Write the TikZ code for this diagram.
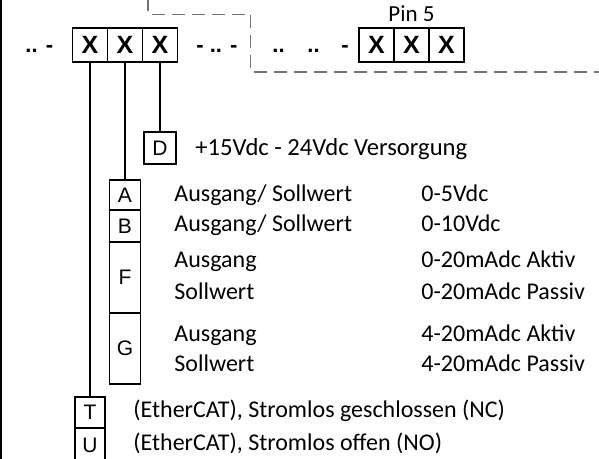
\documentclass[tikz,border=0pt]{standalone}
\usepackage{fontspec}
\setmainfont{Carlito}
\newfontfamily\arialf{Liberation Sans}
\begin{document}
\begin{tikzpicture}[x=0.5pt,y=-0.5pt,
 cell/.style={draw,line width=0.8pt,inner sep=0pt,minimum width=17.5pt,minimum height=17pt,font=\arialf\bfseries\fontsize{12.5}{14}\selectfont},
 sbox/.style={draw,line width=0.75pt,inner sep=0pt,minimum width=15.5pt,font=\arialf\fontsize{10.5}{12}\selectfont},
 wire/.style={line width=0.65pt},
 txt/.style={anchor=base west,inner sep=0pt,font=\fontsize{12}{14}\selectfont},
 dots/.style={anchor=base west,inner sep=0pt,font=\arialf\bfseries\fontsize{11}{13}\selectfont},
 gdash/.style={draw=black!55,line width=0.7pt,dash pattern=on 6.5pt off 3.5pt}]
\useasboundingbox (0,0) rectangle (599,459);
% left border
\draw[line width=0.9pt] (1,0) -- (1,460);
% dashed frame
\draw[gdash] (148,-2) -- (148,14.5) -- (250.5,14.5) -- (250.5,72) -- (602,72);
% first code block
\node[dots] (d1) at (25,53) {.. -};
\node[cell] (x1a) at (90,45) {X};
\node[cell] (x1b) at (125,45) {X};
\node[cell] (x1c) at (160,45) {X};
\node[dots] (d2) at (196,53) {- .. -};
\node[dots] (d3) at (272,53) {..};
\node[dots] (d4) at (307,53) {..};
\node[dots] (d5) at (341,53) {-};
% second code block
\node[cell] (x2a) at (376.5,45) {X};
\node[cell] (x2b) at (411.5,45) {X};
\node[cell] (x2c) at (446.5,45) {X};
\node[anchor=base west,inner sep=0pt,font=\fontsize{11.5}{13}\selectfont] (pin) at (388,21.5) {Pin 5};
% D
\node[sbox,minimum width=16pt,minimum height=16pt] (D) at (160,148) {D};
\node[txt,font=\fontsize{12.3}{14}\selectfont] (tD) at (195,156) {+15Vdc - 24Vdc Versorgung};
% A B F G
\node[sbox,minimum height=15pt] (A) at (125,195) {A};
\node[sbox,minimum height=16pt] (B) at (125,226) {B};
\node[sbox,minimum height=35.5pt] (F) at (125,277.5) {F};
\node[sbox,minimum height=35.5pt] (G) at (125,348.5) {G};
\node[txt] (tA) at (174,201.7) {Ausgang/ Sollwert};
\node[txt] (tB) at (174,231.7) {Ausgang/ Sollwert};
\node[txt] (tF1) at (174,268) {Ausgang};
\node[txt] (tF2) at (174,300) {Sollwert};
\node[txt] (tG1) at (174,341.7) {Ausgang};
\node[txt] (tG2) at (174,371.7) {Sollwert};
\node[txt] (vA) at (421,201.7) {0-5Vdc};
\node[txt] (vB) at (421,231.7) {0-10Vdc};
\node[txt] (vF1) at (421,268) {0-20mAdc Aktiv};
\node[txt] (vF2) at (421,300) {0-20mAdc Passiv};
\node[txt] (vG1) at (421,341.7) {4-20mAdc Aktiv};
\node[txt] (vG2) at (421,371.7) {4-20mAdc Passiv};
% T U
\node[sbox,minimum width=15pt,minimum height=15.5pt] (T) at (90,412.5) {T};
\node[sbox,minimum width=15pt,minimum height=17pt] (U) at (90,445) {U};
\node[txt] (tT) at (133,417) {(EtherCAT), Stromlos geschlossen (NC)};
\node[txt] (tU) at (133,450) {(EtherCAT), Stromlos offen (NO)};
% wires
\draw[wire] (x1a.south) -- (T.north);
\draw[wire] (x1b.south) -- (A.north);
\draw[wire] (x1c.south) -- (D.north);
\end{tikzpicture}
\end{document}
